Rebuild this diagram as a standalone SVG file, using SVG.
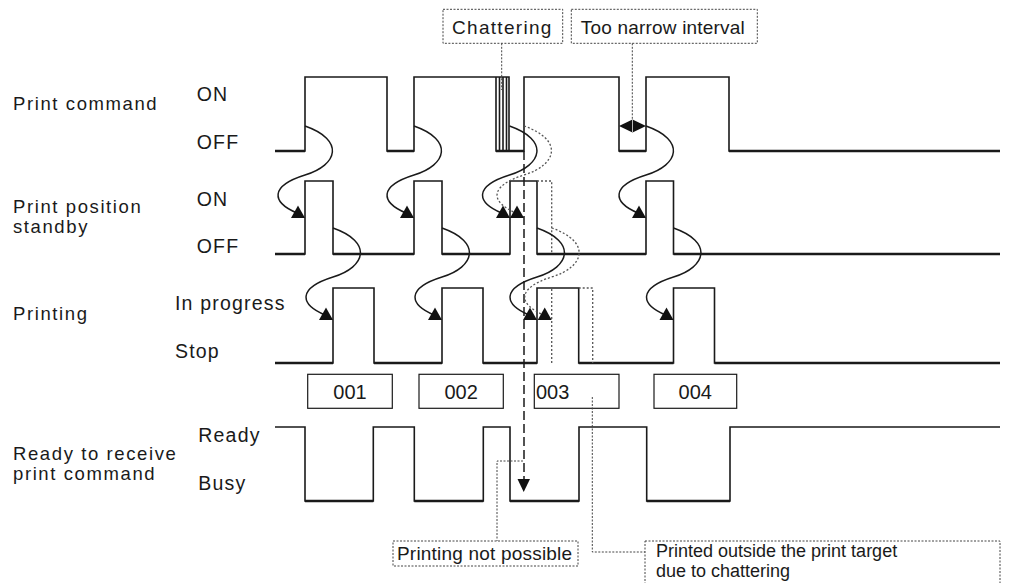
<svg xmlns="http://www.w3.org/2000/svg" xmlns:xlink="http://www.w3.org/1999/xlink" width="1024" height="583" viewBox="0 0 1024 583">
<style>
text{font-family:"Liberation Sans",Arial,sans-serif;fill:#1a1a1a}
.lbl{font-size:18.5px;letter-spacing:1.6px}
.st{font-size:19.5px;letter-spacing:1.2px}
.num{font-size:20px;text-anchor:middle}
.ann{font-size:19px}
.sig{fill:none;stroke:#1a1a1a;stroke-width:1.6}
.low{fill:none;stroke:#1a1a1a;stroke-width:2.6}
.box{fill:none;stroke:#1a1a1a;stroke-width:1.2}
.abox{fill:none;stroke:#444;stroke-width:1;stroke-dasharray:2,1.5}
.lead{fill:none;stroke:#444;stroke-width:1;stroke-dasharray:2,1.5}
.dot{fill:none;stroke:#555;stroke-width:1.3;stroke-dasharray:2,2}
.solid{fill:none;stroke:#1a1a1a;stroke-width:1.5}
.dash{fill:none;stroke:#1a1a1a;stroke-width:1.5;stroke-dasharray:9,4}
.ah{fill:#111}
</style>
<defs>
<path id="crv" d="M0,0 C40,14 33,39 0,49 C-35,60 -34,76 -8,87"/>
<polygon id="ahd" points="0,92 -14,92 -7,79.5"/>
</defs>

<g id="labels">
<text class="lbl" x="13" y="109.5">Print command</text>
<text class="lbl" x="13" y="213">Print position</text>
<text class="lbl" x="13" y="233">standby</text>
<text class="lbl" x="13" y="319.5">Printing</text>
<text class="lbl" x="13" y="460">Ready to receive</text>
<text class="lbl" x="13" y="479.5">print command</text>
<text class="st" x="196.7" y="100.7">ON</text>
<text class="st" x="196.7" y="149">OFF</text>
<text class="st" x="196.7" y="205.7">ON</text>
<text class="st" x="196.7" y="253.3">OFF</text>
<text class="st" x="175" y="310">In progress</text>
<text class="st" x="175" y="358.3">Stop</text>
<text class="st" x="198.3" y="441.7">Ready</text>
<text class="st" x="198.3" y="490">Busy</text>
</g>

<g id="sig-print-command">
<path class="sig" d="M275,151 H305 V77 H387 V151 H414 V77 H509 V151 H524 V77 H619 V151 H646 V77 H729 V151 H1000"/>
<path class="sig" d="M496,77 V151 H509 M499.5,77 V151 M503,77 V151 M506.5,77 V151"/>
<path class="low" d="M275,151 H305 M387,151 H414 M496,151 H524 M619,151 H646 M729,151 H1000"/>
</g>
<g id="sig-standby">
<path class="sig" d="M275,254 H305 V181 H333 V254 H414 V181 H442 V254 H510 V181 H537 V254 H646 V181 H673.5 V254 H1000"/>
<path class="low" d="M275,254 H305 M333,254 H414 M442,254 H510 M537,254 H646 M673.5,254 H1000"/>
<path class="dot" d="M537,181 H551.7 V254"/>
</g>
<g id="sig-printing">
<path class="sig" d="M275,363 H333 V288 H374 V363 H442 V288 H483 V363 H537 V288 H578.7 V363 H673.5 V288 H714.5 V363 H1000"/>
<path class="low" d="M275,363 H333 M374,363 H442 M483,363 H537 M578.7,363 H673.5 M714.5,363 H1000"/>
<path class="dot" d="M551.7,363 V288 M578.7,288 H592.7 V363"/>
</g>
<g id="sig-ready">
<path class="sig" d="M275,427 H305 V501 H373.3 V427 H414.3 V501 H483.3 V427 H510 V501 H579 V427 H646.7 V501 H730 V427 H1000"/>
<path class="low" d="M305,501 H373.3 M414.3,501 H483.3 M510,501 H579 M646.7,501 H730"/>
</g>

<g id="job-001"><rect class="box" x="307.7" y="374.3" width="84.6" height="34"/><text class="num" x="350" y="399.3">001</text></g>
<g id="job-002"><rect class="box" x="419" y="374.3" width="84.3" height="34"/><text class="num" x="461.2" y="399.3">002</text></g>
<g id="job-003"><rect class="box" x="534.3" y="374.3" width="84.7" height="34"/><text class="num" x="536" y="399.3" style="text-anchor:start">003</text></g>
<g id="job-004"><rect class="box" x="654" y="374.3" width="82.7" height="34"/><text class="num" x="695.3" y="399.3">004</text></g>

<g id="note-chattering"><rect class="abox" x="443" y="9.3" width="119.7" height="34"/><text class="ann" x="452" y="34" style="letter-spacing:1.3px">Chattering</text></g>
<g id="note-narrow"><rect class="abox" x="571.3" y="9.3" width="186" height="34"/><text class="ann" x="580.7" y="34" style="letter-spacing:0.2px">Too narrow interval</text></g>
<g id="note-notpossible"><rect class="abox" x="393" y="541" width="185" height="25"/><text class="ann" x="397" y="560" style="font-size:19px;letter-spacing:0.2px">Printing not possible</text></g>
<g id="note-outside"><rect class="abox" x="645" y="541" width="355" height="50"/><text class="ann" x="656" y="557" style="font-size:18px">Printed outside the print target</text><text class="ann" x="656" y="577" style="font-size:18px">due to chattering</text></g>

<g id="connectors">
<path class="lead" d="M501.7,43.3 V90"/>
<path class="lead" d="M632.3,43.3 V126"/>
<path class="lead" d="M523,461 H497 V541"/>
<path class="lead" d="M592.3,397 V552 H645"/>
<path class="dash" d="M524,151 V480"/>
<polygon class="ah" points="517.5,479 530,479 523.7,492"/>
<polygon class="ah" points="619,126 632.5,119.5 646,126 632.5,132.5"/>
<line x1="632.5" y1="119.5" x2="632.5" y2="132.5" stroke="#bbb" stroke-width="1"/>

<use href="#crv" class="solid" x="305" y="126"/><use href="#ahd" class="ah" x="305" y="126"/>
<use href="#crv" class="solid" x="414" y="126"/><use href="#ahd" class="ah" x="414" y="126"/>
<use href="#crv" class="solid" x="509.5" y="126"/><use href="#ahd" class="ah" x="510" y="126"/>
<use href="#crv" class="solid" x="646" y="126"/><use href="#ahd" class="ah" x="646" y="126"/>
<use href="#crv" class="dot" x="524" y="126"/><use href="#ahd" class="ah" x="524" y="126"/>

<use href="#crv" class="solid" x="333" y="228"/><use href="#ahd" class="ah" x="333" y="228"/>
<use href="#crv" class="solid" x="442" y="228"/><use href="#ahd" class="ah" x="442" y="228"/>
<use href="#crv" class="solid" x="537" y="228"/><use href="#ahd" class="ah" x="537" y="228"/>
<use href="#crv" class="solid" x="673.5" y="228"/><use href="#ahd" class="ah" x="673.5" y="228"/>
<use href="#crv" class="dot" x="551.7" y="228"/><use href="#ahd" class="ah" x="551.7" y="228"/>
</g>
</svg>
